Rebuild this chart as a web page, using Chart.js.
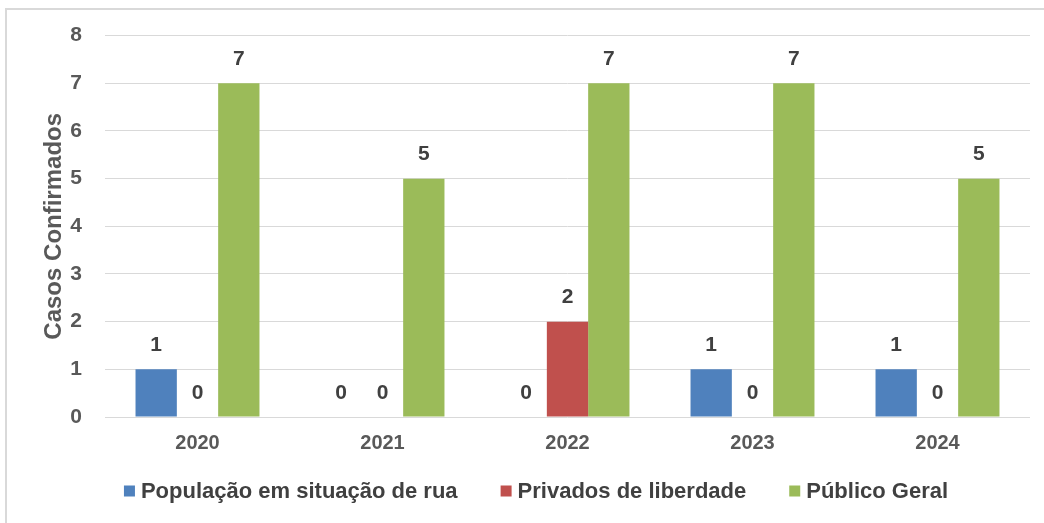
<!DOCTYPE html>
<html>
<head>
<meta charset="utf-8">
<script src="https://cdn.jsdelivr.net/npm/chart.js@4"></script>
<style>
  html, body { margin: 0; padding: 0; background: #fff; }
  #wrap { position: relative; width: 1044px; height: 523px; }
  #frame { position: absolute; left: 5px; top: 8px; right: 0; bottom: 0; border-top: 2px solid #d9d9d9; border-left: 2px solid #d9d9d9; }
  canvas { position: absolute; left: 0; top: 0; }
</style>
</head>
<body>
<div id="wrap">
  <div id="frame"></div>
  <canvas id="chart" width="1044" height="523"></canvas>
</div>
<script>
const years = ['2020', '2021', '2022', '2023', '2024'];
const populacaoRua = [1, 0, 0, 1, 1];
const privadosLiberdade = [0, 0, 2, 0, 0];
const publicoGeral = [7, 5, 7, 7, 5];

const labelColor = '#404040';
const axisColor = '#595959';
const fontFamily = '"Liberation Sans", Arial, sans-serif';

// value labels above each bar (zeros too)
const barLabels = {
  id: 'barLabels',
  afterDatasetsDraw(chart) {
    const ctx = chart.ctx;
    ctx.save();
    ctx.font = 'bold 21px ' + fontFamily;
    ctx.fillStyle = labelColor;
    ctx.textAlign = 'center';
    ctx.textBaseline = 'middle';
    chart.data.datasets.forEach((ds, i) => {
      chart.getDatasetMeta(i).data.forEach((bar, j) => {
        ctx.fillText(ds.data[j], bar.x, bar.y - 24);
      });
    });
    ctx.restore();
  }
};

// legend drawn by hand: the built-in one can't space items wider without padding vertically too
const wideLegend = {
  id: 'wideLegend',
  afterDraw(chart) {
    const ctx = chart.ctx;
    const box = 11, gap = 6, spacing = 43, y = 491;
    ctx.save();
    ctx.font = 'bold 22px ' + fontFamily;
    ctx.textBaseline = 'middle';
    const items = chart.data.datasets.map(ds => ({ text: ds.label, color: ds.backgroundColor, w: ctx.measureText(ds.label).width }));
    const total = items.reduce((s, it) => s + box + gap + it.w, 0) + spacing * (items.length - 1);
    let x = 536 - total / 2;
    items.forEach(it => {
      ctx.fillStyle = it.color;
      ctx.fillRect(x, y - box / 2, box, box);
      ctx.fillStyle = labelColor;
      ctx.fillText(it.text, x + box + gap, y + 1);
      x += box + gap + it.w + spacing;
    });
    ctx.restore();
  }
};

new Chart(document.getElementById('chart').getContext('2d'), {
  type: 'bar',
  data: {
    labels: years,
    datasets: [
      { label: 'População em situação de rua', data: populacaoRua, backgroundColor: '#4F81BD' },
      { label: 'Privados de liberdade', data: privadosLiberdade, backgroundColor: '#C0504D' },
      { label: 'Público Geral', data: publicoGeral, backgroundColor: '#9BBB59' }
    ]
  },
  options: {
    responsive: false,
    animation: false,
    layout: { padding: { top: 23, right: 14, left: 40, bottom: 62 } },
    datasets: { bar: { barPercentage: 1, categoryPercentage: 0.67 } },
    scales: {
      y: {
        min: 0,
        max: 8,
        afterFit(scale) { scale.width = 65; },
        ticks: { stepSize: 1, padding: 23, color: axisColor, font: { family: fontFamily, size: 21, weight: 'bold' } },
        grid: { color: '#d9d9d9', lineWidth: 1, drawTicks: false },
        border: { display: false },
        title: { display: true, text: 'Casos Confirmados', color: axisColor, padding: 0, font: { family: fontFamily, size: 24, weight: 'bold' } }
      },
      x: {
        ticks: { color: axisColor, padding: 6, font: { family: fontFamily, size: 20, weight: 'bold' } },
        grid: { display: false },
        border: { display: false }
      }
    },
    plugins: {
      legend: { display: false },
      tooltip: { enabled: false }
    }
  },
  plugins: [barLabels, wideLegend]
});
</script>
</body>
</html>
